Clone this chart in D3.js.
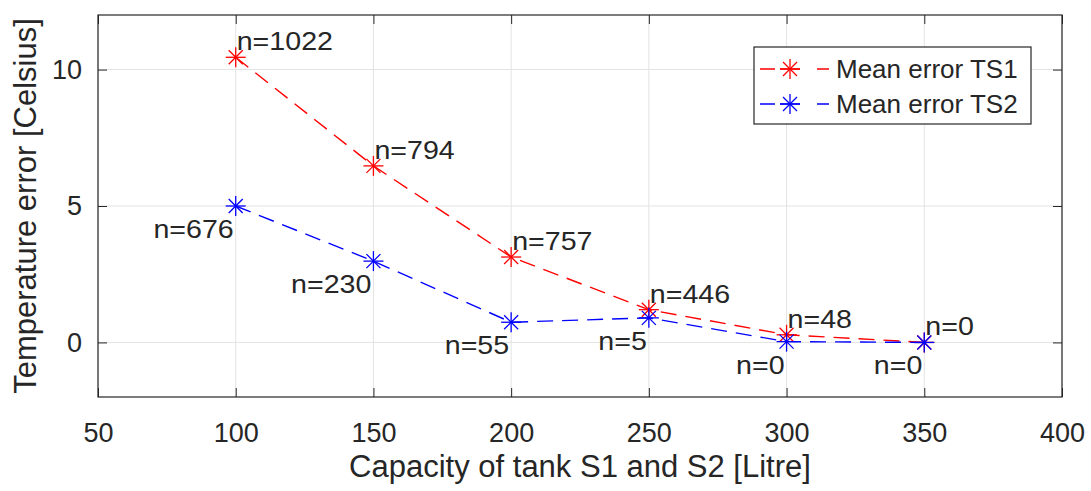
<!DOCTYPE html>
<html>
<head>
<meta charset="utf-8">
<script src="https://cdn.jsdelivr.net/npm/d3@7"></script>
<style>
  body { margin: 0; background: #fff; }
  text { font-family: "Liberation Sans", Arial, sans-serif; fill: #262626; }
</style>
</head>
<body>
<svg id="chart"></svg>
<script>
// data
const capacity = [100, 150, 200, 250, 300, 350];
const errorTS1 = [10.45, 6.47, 3.13, 1.2, 0.28, 0];
const errorTS2 = [5.0, 2.98, 0.74, 0.9, 0.03, 0];
const countTS1 = ["n=1022", "n=794", "n=757", "n=446", "n=48", "n=0"];
const countTS2 = ["n=676", "n=230", "n=55", "n=5", "n=0", "n=0"];
const xTicks = [50, 100, 150, 200, 250, 300, 350, 400];
const yTicks = [0, 5, 10];
const seriesNames = ["Mean error TS1", "Mean error TS2"];
const seriesColors = ["#ff0000", "#0000ff"];

const width = 1091;
const height = 491;
const margin = {top: 15, right: 29, bottom: 94, left: 98};
const axisColor = "#262626";
const dash = "16,9";

const svg = d3.select("#chart")
              .attr("width", width)
              .attr("height", height);

const x = d3.scaleLinear().domain([50, 400]).range([margin.left, width - margin.right]);
const y = d3.scaleLinear().domain([-2, 12]).range([height - margin.bottom, margin.top]);

// grid lines
const grid = svg.append("g").attr("stroke", "#e3e3e3").attr("stroke-width", 1);
grid.selectAll(".gx").data(xTicks).enter().append("line")
    .attr("x1", d => x(d)).attr("x2", d => x(d))
    .attr("y1", y.range()[0]).attr("y2", y.range()[1]);
grid.selectAll(".gy").data(yTicks).enter().append("line")
    .attr("x1", x.range()[0]).attr("x2", x.range()[1])
    .attr("y1", d => y(d)).attr("y2", d => y(d));

// axes: inward ticks on all four sides
function styleAxis(g) {
    g.select(".domain").remove();
    g.selectAll(".tick line").attr("stroke", axisColor);
    g.selectAll(".tick text").attr("font-size", 27).attr("fill", axisColor)
     .style("font-family", "'Liberation Sans', Arial, sans-serif");
}
svg.append("g").attr("transform", `translate(0,${y(-2)})`)
   .call(d3.axisBottom(x).tickValues(xTicks).tickSize(-9).tickPadding(26))
   .call(styleAxis);
svg.append("g").attr("transform", `translate(0,${y(12)})`)
   .call(d3.axisTop(x).tickValues(xTicks).tickSize(-9).tickFormat(""))
   .call(styleAxis);
svg.append("g").attr("transform", `translate(${x(50)},0)`)
   .call(d3.axisLeft(y).tickValues(yTicks).tickSize(-9).tickPadding(16))
   .call(styleAxis);
svg.append("g").attr("transform", `translate(${x(400)},0)`)
   .call(d3.axisRight(y).tickValues(yTicks).tickSize(-9).tickFormat(""))
   .call(styleAxis);

// box
svg.append("rect")
   .attr("x", x(50)).attr("y", y(12))
   .attr("width", x(400) - x(50)).attr("height", y(-2) - y(12))
   .attr("fill", "none").attr("stroke", axisColor).attr("stroke-width", 1.2);

// star marker (plus + cross)
function star(g, cx, cy, color) {
    const r = 10, d = 7;
    const s = g.append("g").attr("stroke", color).attr("stroke-width", 1.3);
    s.append("line").attr("x1", cx - r).attr("x2", cx + r).attr("y1", cy).attr("y2", cy);
    s.append("line").attr("x1", cx).attr("x2", cx).attr("y1", cy - r).attr("y2", cy + r);
    s.append("line").attr("x1", cx - d).attr("x2", cx + d).attr("y1", cy - d).attr("y2", cy + d);
    s.append("line").attr("x1", cx - d).attr("x2", cx + d).attr("y1", cy + d).attr("y2", cy - d);
}

const line = d3.line().x(d => x(d[0])).y(d => y(d[1]));
const series = [errorTS1, errorTS2];

series.forEach((vals, i) => {
    const pts = capacity.map((c, j) => [c, vals[j]]);
    svg.append("path").datum(pts)
       .attr("d", line)
       .attr("fill", "none")
       .attr("stroke", seriesColors[i])
       .attr("stroke-width", 1.4)
       .attr("stroke-dasharray", dash);
    const mk = svg.append("g");
    pts.forEach(p => star(mk, x(p[0]), y(p[1]), seriesColors[i]));
});

// n= annotations (glyphs a little wide in the original)
svg.append("g").selectAll("text").data(capacity).enter().append("text")
   .attr("transform", (d, i) => `translate(${x(d) + 1},${y(errorTS1[i]) - 7}) scale(1.1,1)`)
   .attr("font-size", 26)
   .text((d, i) => countTS1[i]);
svg.append("g").selectAll("text").data(capacity).enter().append("text")
   .attr("transform", (d, i) => `translate(${x(d) - 2},${y(errorTS2[i]) + 32}) scale(1.1,1)`)
   .attr("text-anchor", "end")
   .attr("font-size", 26)
   .text((d, i) => countTS2[i]);

// axis titles
svg.append("text")
   .attr("x", (x(50) + x(400)) / 2).attr("y", 477)
   .attr("text-anchor", "middle").attr("font-size", 31)
   .text("Capacity of tank S1 and S2 [Litre]");
svg.append("text")
   .attr("transform", `translate(36,${(y(-2) + y(12)) / 2}) rotate(-90)`)
   .attr("text-anchor", "middle").attr("font-size", 31)
   .text("Temperature error [Celsius]");

// legend
const legend = svg.append("g").attr("transform", "translate(754,47)");
legend.append("rect").attr("width", 277).attr("height", 77)
      .attr("fill", "#fff").attr("stroke", axisColor).attr("stroke-width", 1.2);
seriesNames.forEach((name, i) => {
    const ly = 22 + i * 35;
    legend.append("line").attr("x1", 6).attr("x2", 75).attr("y1", ly).attr("y2", ly)
          .attr("stroke", seriesColors[i]).attr("stroke-width", 1.4)
          .attr("stroke-dasharray", "15,5,20,17,12");
    star(legend, 36, ly, seriesColors[i]);
    legend.append("text").attr("x", 82).attr("y", ly + 9)
          .attr("font-size", 26).text(name);
});
</script>
</body>
</html>
